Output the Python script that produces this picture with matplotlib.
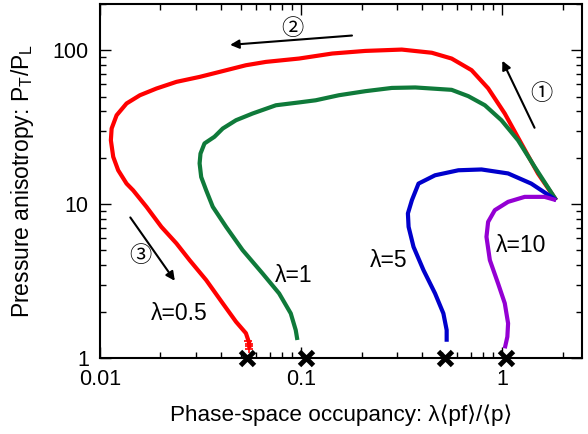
import numpy as np
import matplotlib
matplotlib.use("Agg")
import matplotlib.pyplot as plt
from matplotlib.ticker import FixedLocator, FixedFormatter, LogLocator, NullFormatter

plt.rcParams['font.family'] = ['Liberation Sans', 'DejaVu Sans', 'Noto Sans CJK JP']
plt.rcParams['mathtext.default'] = 'regular'

# curves: (occupancy, anisotropy)
x_l05 = [1.857, 1.507, 1.246, 1.031, 0.852, 0.705, 0.561, 0.447, 0.317, 0.209, 0.143, 0.0977,
         0.0669, 0.0532, 0.0393, 0.0313, 0.0240, 0.0191, 0.0158, 0.01356, 0.01210, 0.01143,
         0.01133, 0.01164, 0.01232, 0.01356, 0.01462, 0.01703, 0.0202, 0.0240, 0.0279,
         0.03375, 0.04077, 0.04751, 0.0532, 0.0553, 0.0553]
y_l05 = [10.62, 15.83, 24.79, 38.8, 56.6, 74.2, 88.3, 96.3, 101.0, 99.0, 95.2, 88.3,
         84.0, 79.9, 72.3, 67.1, 62.3, 56.4, 51.0, 45.1, 37.8, 31.0,
         26.0, 20.3, 16.6, 13.6, 12.3, 9.61, 7.12, 5.56, 4.33,
         3.21, 2.27, 1.72, 1.45, 1.246, 1.156]
# short error marks at the end of the lambda=0.5 run
x_l05_err = [0.0545, 0.0550, 0.0553, 0.0553]
y_l05_err = [1.30, 1.24, 1.19, 1.15]

x_l1 = [1.857, 1.452, 1.200, 0.992, 0.821, 0.679, 0.561, 0.370, 0.283, 0.209, 0.1542, 0.1183,
        0.0977, 0.0750, 0.0574, 0.0475, 0.0408, 0.0371, 0.0331, 0.03162, 0.0313, 0.03188,
        0.03375, 0.0364, 0.0424, 0.0512, 0.0643, 0.0778, 0.0889, 0.0941, 0.0959]
y_l1 = [10.62, 17.47, 26.0, 35.1, 43.9, 50.3, 55.3, 57.3, 56.9, 54.2, 51.0, 47.3,
        45.8, 43.9, 38.8, 35.1, 31.0, 27.4, 24.8, 21.3, 18.4, 15.0,
        12.3, 9.61, 7.12, 5.03, 3.55, 2.63, 1.95, 1.52, 1.31]

x_l5 = [1.857, 1.396, 1.071, 0.790, 0.606, 0.464, 0.384, 0.356, 0.340, 0.3427, 0.3626,
        0.4063, 0.464, 0.5104, 0.530, 0.530]
y_l5 = [10.62, 13.6, 15.83, 16.8, 16.6, 15.4, 13.6, 10.62, 8.70, 7.12, 5.28,
        3.73, 2.63, 1.95, 1.52, 1.276]

x_l10 = [1.857, 1.627, 1.295, 1.071, 0.920, 0.852, 0.836, 0.869, 0.955, 1.031, 1.071, 1.062, 1.031]
y_l10 = [10.62, 11.15, 11.15, 10.35, 9.14, 7.67, 6.13, 4.33, 3.05, 2.27, 1.68, 1.375, 1.156]

# equilibrium values marked on the x axis
x_eq = [0.0541, 0.106, 0.522, 1.05]

fig = plt.figure(figsize=(5.88, 4.34), dpi=100)
ax = fig.add_axes([0.170, 0.175, 0.820, 0.816])

ax.plot(x_l05, y_l05, color='#ff0000', lw=3, solid_capstyle='butt', solid_joinstyle='round')
ax.plot(x_l05_err, y_l05_err, ls='none', marker='+', ms=6, mew=1.2, color='#ff0000')
ax.plot(x_l1, y_l1, color='#0f7a3a', lw=3, solid_capstyle='butt', solid_joinstyle='round')
ax.plot(x_l5, y_l5, color='#0000cc', lw=3, solid_capstyle='butt', solid_joinstyle='round')
ax.plot(x_l10, y_l10, color='#9400d3', lw=3, solid_capstyle='butt', solid_joinstyle='round')

ax.plot(x_eq, [1] * len(x_eq), ls='none', marker='x', ms=10, mew=3.5,
        color='black', clip_on=False, zorder=10)

ax.set_xscale('log')
ax.set_yscale('log')
ax.set_xlim(0.01, 2.5)
ax.set_ylim(1, 200)

ax.xaxis.set_major_locator(FixedLocator([0.01, 0.1, 1]))
ax.xaxis.set_major_formatter(FixedFormatter(['0.01', '0.1', '1']))
ax.yaxis.set_major_locator(FixedLocator([1, 10, 100]))
ax.yaxis.set_major_formatter(FixedFormatter(['1', '10', '100']))
ax.xaxis.set_minor_locator(LogLocator(base=10, subs=np.arange(2, 10)))
ax.yaxis.set_minor_locator(LogLocator(base=10, subs=np.arange(2, 10)))
ax.xaxis.set_minor_formatter(NullFormatter())
ax.yaxis.set_minor_formatter(NullFormatter())
ax.tick_params(which='both', direction='in', top=True, right=True, labelsize=15.5, width=1)
ax.tick_params(which='major', length=8, pad=8)
ax.tick_params(which='minor', length=4)
for sp in ax.spines.values():
    sp.set_linewidth(1.5)

ax.set_xlabel('Phase-space occupancy: λ⟨pf⟩/⟨p⟩', fontsize=16.2, labelpad=10)
ax.set_ylabel('Pressure anisotropy: P$_T$/P$_L$', fontsize=16.5, labelpad=12)

# stage arrows
arr = dict(arrowstyle='-|>', color='black', lw=1.5, mutation_scale=13)
ax.annotate('', xy=(0.989, 88.7), xytext=(1.47, 30.2), arrowprops=arr)
ax.annotate('', xy=(0.043, 108), xytext=(0.185, 125), arrowprops=arr)
ax.annotate('', xy=(0.024, 3.07), xytext=(0.0139, 8.48), arrowprops=arr)
circ = dict(fontsize=16, ha='center', va='center', family=['Noto Sans CJK JP', 'DejaVu Sans'])
ax.text(1.56, 52.6, '①', **circ)
ax.text(0.0903, 139, '②', **circ)
ax.text(0.0158, 4.66, '③', **circ)

ax.text(0.0249, 1.96, 'λ=0.5', fontsize=16.5, ha='center', va='center')
ax.text(0.0923, 3.46, 'λ=1', fontsize=16.5, ha='center', va='center')
ax.text(0.273, 4.33, 'λ=5', fontsize=16.5, ha='center', va='center')
ax.text(1.24, 5.42, 'λ=10', fontsize=16.5, ha='center', va='center')

fig.savefig('out.png', dpi=100)
